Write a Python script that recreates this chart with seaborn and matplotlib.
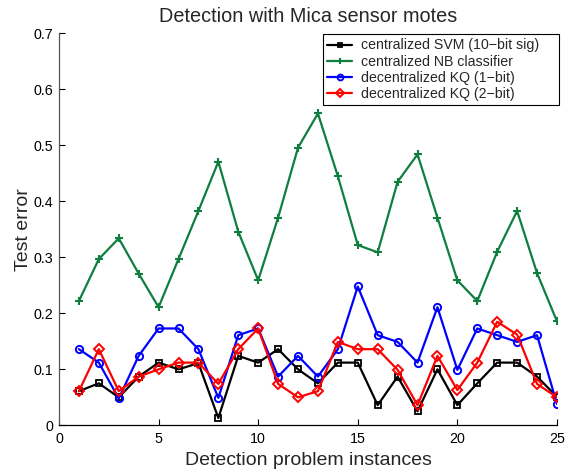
import matplotlib
matplotlib.use("Agg")
import matplotlib.pyplot as plt
from matplotlib.patches import Rectangle
import seaborn as sns
import pandas as pd

instances = list(range(1, 26))
svm_10bit = [0.061, 0.075, 0.050, 0.087, 0.112, 0.100, 0.111, 0.013, 0.124, 0.112,
             0.136, 0.100, 0.075, 0.112, 0.112, 0.036, 0.087, 0.025, 0.100, 0.036,
             0.075, 0.112, 0.112, 0.087, 0.051]
nb_classifier = [0.222, 0.297, 0.334, 0.271, 0.211, 0.297, 0.383, 0.471, 0.346, 0.259,
                 0.371, 0.496, 0.557, 0.445, 0.322, 0.309, 0.435, 0.484, 0.371, 0.259,
                 0.222, 0.310, 0.383, 0.272, 0.186]
kq_1bit = [0.136, 0.112, 0.048, 0.124, 0.173, 0.173, 0.136, 0.049, 0.161, 0.173,
           0.087, 0.124, 0.087, 0.136, 0.248, 0.161, 0.149, 0.112, 0.211, 0.099,
           0.173, 0.161, 0.149, 0.161, 0.038]
kq_2bit = [0.061, 0.136, 0.061, 0.087, 0.100, 0.112, 0.112, 0.074, 0.136, 0.173,
           0.074, 0.050, 0.061, 0.149, 0.136, 0.136, 0.099, 0.036, 0.124, 0.063,
           0.112, 0.185, 0.162, 0.074, 0.050]

labels = ["centralized SVM (10\u2212bit sig)", "centralized NB classifier",
          "decentralized KQ (1\u2212bit)", "decentralized KQ (2\u2212bit)"]
series = [svm_10bit, nb_classifier, kq_1bit, kq_2bit]

sns.set_theme(style="white")
plt.rcParams['font.family'] = ['Liberation Sans', 'DejaVu Sans']

fig = plt.figure(figsize=(5.75, 4.71), dpi=100)
ax = fig.add_axes([0.1026, 0.097, 0.866, 0.832])

styles = [
    dict(color="black", marker="s", markersize=4.2, markerfacecolor="none", markeredgewidth=1.3),
    dict(color="#0E7F3E", marker="+", markersize=6, markeredgewidth=1.5),
    dict(color="#0000FF", marker="o", markersize=5.2, markerfacecolor="none", markeredgewidth=1.4),
    dict(color="#FF0000", marker="D", markersize=4.6, markerfacecolor="none", markeredgewidth=1.4),
]

for lab, vals, st in zip(labels, series, styles):
    df = pd.DataFrame({"x": instances, "y": vals})
    n_before = len(ax.lines)
    sns.lineplot(data=df, x="x", y="y", ax=ax, label=lab, color=st["color"], linewidth=1.6)
    for ln in ax.lines[n_before:]:
        ln.set_linestyle("-")
        ln.set_marker(st["marker"])
        ln.set_markersize(st["markersize"])
        ln.set_markeredgewidth(st["markeredgewidth"])
        ln.set_markeredgecolor(st["color"])
        ln.set_markerfacecolor(st.get("markerfacecolor", st["color"]))

ax.set_xlim(0, 25)
ax.set_ylim(0, 0.7)
ax.set_xticks([0, 5, 10, 15, 20, 25])
ax.set_yticks([0, 0.1, 0.2, 0.3, 0.4, 0.5, 0.6, 0.7])
ax.set_yticklabels(["0", "0.1", "0.2", "0.3", "0.4", "0.5", "0.6", "0.7"])
ax.set_xticklabels(["0", "5", "10", "15", "20", "25"])
ax.tick_params(direction="in", length=4, width=0.8, labelsize=10.3, colors="black",
               bottom=True, left=True, top=False, right=False)
ax.tick_params(axis="x", pad=5)
ax.tick_params(axis="y", pad=4)
for s in ["top", "right"]:
    ax.spines[s].set_visible(False)
ax.spines["left"].set_color("#555555")
ax.spines["bottom"].set_color("black")
ax.spines["left"].set_linewidth(0.9)
ax.spines["bottom"].set_linewidth(0.9)

ax.set_xlabel("Detection problem instances", fontsize=14, labelpad=4)
ax.set_ylabel("Test error", fontsize=14, labelpad=1)
ax.set_title("Detection with Mica sensor motes", fontsize=14.3, pad=8)

leg = ax.legend(loc="upper right", bbox_to_anchor=(0.972, 0.998), borderaxespad=0,
                fontsize=10.2, frameon=False,
                handlelength=1.75, handletextpad=0.6, labelspacing=0.15, borderpad=0.3)
for h in leg.legend_handles:
    h.set_markersize(h.get_markersize() * 0.8)

fig.canvas.draw()
bb = leg.get_window_extent().transformed(fig.transFigure.inverted())
right = 559.0 / 575.0
rect = Rectangle((bb.x0, bb.y0), right - bb.x0, bb.height, transform=fig.transFigure,
                 facecolor="white", edgecolor="black", linewidth=0.8, zorder=4)
fig.add_artist(rect)
leg.set_zorder(5)
leg.remove()
fig.add_artist(leg)

fig.savefig("out.png", dpi=100)
